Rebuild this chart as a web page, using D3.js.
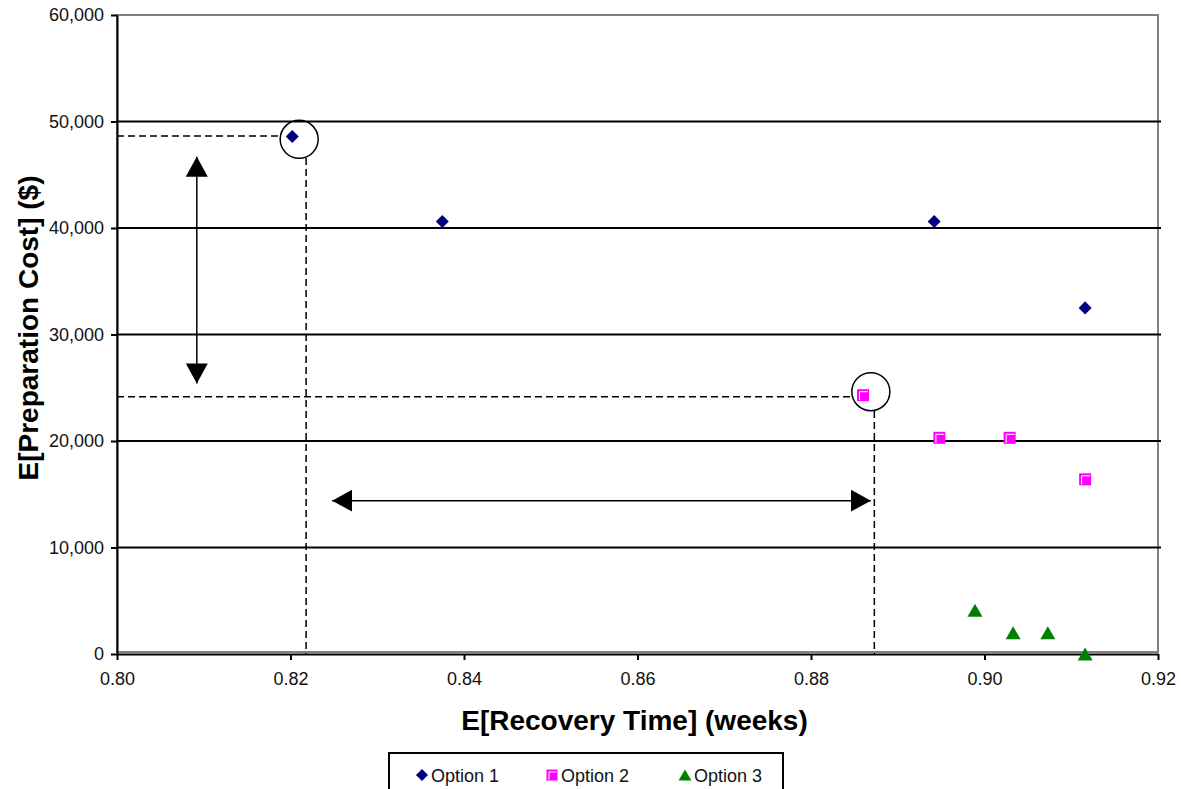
<!DOCTYPE html>
<html>
<head>
<meta charset="utf-8">
<script src="https://cdn.jsdelivr.net/npm/d3@7"></script>
<style>
  body { margin: 0; background: #fff; }
  svg { font-family: "Liberation Sans", Arial, sans-serif; }
</style>
</head>
<body>
<div id="chart"></div>
<script>
// series values (x = expected recovery time, y = expected preparation cost)
const option1_x = [0.8202, 0.8375, 0.8942, 0.9116];
const option1_y = [48600, 40600, 40600, 32500];
const option2_x = [0.8860, 0.8948, 0.9029, 0.9116];
const option2_y = [24300, 20300, 20300, 16400];
const option3_x = [0.8989, 0.9033, 0.9073, 0.9116];
const option3_y = [4100, 2000, 2000, 0];

const series_names = ["Option 1", "Option 2", "Option 3"];
const x_ticks = [0.80, 0.82, 0.84, 0.86, 0.88, 0.90, 0.92];
const y_ticks = [0, 10000, 20000, 30000, 40000, 50000, 60000];

// annotation positions in data units
const circle_centers = [[0.8210, 48330], [0.8869, 24630]];
const guide_h = [[0.80, 0.8189, 48640], [0.80, 0.8846, 24160]];   // x0, x1, y
const guide_v = [[0.8218, 46570, 0], [0.8873, 22820, 0]];         // x, y0, y1
const arrow_v = [0.8092, 46700, 25400];                            // x, y_top, y_bottom
const arrow_h = [0.8248, 0.8869, 14400];                           // x_left, x_right, y

const chart_width = 1181;
const chart_height = 789;
const margin_left = 117;
const margin_top = 15;
const plot_width = 1041;
const plot_height = 639;

let svg = d3.select("#chart")
    .append("svg")
    .attr("width", chart_width)
    .attr("height", chart_height);

let xScale = d3.scaleLinear()
    .domain([0.80, 0.92])
    .range([margin_left, margin_left + plot_width]);

let yScale = d3.scaleLinear()
    .domain([0, 60000])
    .range([margin_top + plot_height, margin_top]);

// plot area border (grey)
svg.append("rect")
    .attr("x", xScale(0.80))
    .attr("y", yScale(60000))
    .attr("width", xScale(0.92) - xScale(0.80))
    .attr("height", yScale(0) - yScale(60000) - 2)
    .attr("fill", "none")
    .attr("stroke", "#808080")
    .attr("stroke-width", 2);

// gridlines
svg.append("g")
    .selectAll("line")
    .data(y_ticks.filter(d => d > 0 && d < 60000))
    .enter()
    .append("line")
    .attr("x1", xScale(0.80))
    .attr("x2", xScale(0.92) + 3)
    .attr("y1", d => yScale(d))
    .attr("y2", d => yScale(d))
    .attr("stroke", "#000")
    .attr("stroke-width", 2);

let x_axis = svg.append("g")
    .attr("class", "x axis")
    .attr("transform", "translate(0," + yScale(0) + ")")
    .call(d3.axisBottom(xScale)
        .tickValues(x_ticks)
        .tickSizeInner(6)
        .tickSizeOuter(0)
        .tickFormat(d3.format(".2f")));

let y_axis = svg.append("g")
    .attr("class", "y axis")
    .attr("transform", "translate(" + xScale(0.80) + ",0)")
    .call(d3.axisLeft(yScale)
        .tickValues(y_ticks)
        .tickSizeInner(6)
        .tickSizeOuter(0)
        .tickFormat(d3.format(",")));

svg.selectAll(".axis path, .axis line")
    .attr("stroke", "#000")
    .attr("stroke-width", 2);
svg.selectAll(".axis text")
    .attr("fill", "#111")
    .attr("font-size", "18px")
    .attr("font-family", "Liberation Sans, Arial, sans-serif");
x_axis.selectAll("text").attr("dy", "1.2em");
y_axis.selectAll("text").attr("x", -13);

// axis titles
svg.append("text")
    .attr("x", xScale(0.86) - 3)
    .attr("y", 730)
    .attr("text-anchor", "middle")
    .attr("font-size", "28px")
    .attr("font-weight", "bold")
    .text("E[Recovery Time] (weeks)");

svg.append("text")
    .attr("transform", "translate(38,328) rotate(-90)")
    .attr("text-anchor", "middle")
    .attr("font-size", "28px")
    .attr("font-weight", "bold")
    .text("E[Preparation Cost] ($)");

// annotations: dashed guides, circles, arrows
let notes = svg.append("g");

notes.selectAll(".guide_h")
    .data(guide_h)
    .enter()
    .append("line")
    .attr("x1", d => xScale(d[0]))
    .attr("x2", d => xScale(d[1]))
    .attr("y1", d => yScale(d[2]))
    .attr("y2", d => yScale(d[2]))
    .attr("stroke", "#000")
    .attr("stroke-width", 1.5)
    .attr("stroke-dasharray", "7,4");

notes.selectAll(".guide_v")
    .data(guide_v)
    .enter()
    .append("line")
    .attr("x1", d => xScale(d[0]))
    .attr("x2", d => xScale(d[0]))
    .attr("y1", d => yScale(d[1]))
    .attr("y2", d => yScale(d[2]))
    .attr("stroke", "#000")
    .attr("stroke-width", 1.5)
    .attr("stroke-dasharray", "7,4");

notes.selectAll("circle")
    .data(circle_centers)
    .enter()
    .append("circle")
    .attr("cx", d => xScale(d[0]))
    .attr("cy", d => yScale(d[1]))
    .attr("r", 19)
    .attr("fill", "none")
    .attr("stroke", "#000")
    .attr("stroke-width", 1.5);

svg.append("defs")
    .append("marker")
    .attr("id", "arrowhead")
    .attr("markerUnits", "userSpaceOnUse")
    .attr("viewBox", "0 0 20 22")
    .attr("refX", 20)
    .attr("refY", 11)
    .attr("markerWidth", 20)
    .attr("markerHeight", 22)
    .attr("orient", "auto-start-reverse")
    .append("path")
    .attr("d", "M0,0 L20,11 L0,22 Z")
    .attr("fill", "#000");

notes.append("line")
    .attr("x1", xScale(arrow_v[0]))
    .attr("x2", xScale(arrow_v[0]))
    .attr("y1", yScale(arrow_v[1]))
    .attr("y2", yScale(arrow_v[2]))
    .attr("stroke", "#000")
    .attr("stroke-width", 1.5)
    .attr("marker-start", "url(#arrowhead)")
    .attr("marker-end", "url(#arrowhead)");

notes.append("line")
    .attr("x1", xScale(arrow_h[0]))
    .attr("x2", xScale(arrow_h[1]))
    .attr("y1", yScale(arrow_h[2]))
    .attr("y2", yScale(arrow_h[2]))
    .attr("stroke", "#000")
    .attr("stroke-width", 1.5)
    .attr("marker-start", "url(#arrowhead)")
    .attr("marker-end", "url(#arrowhead)");

// marker drawing helpers
function draw_diamond(g, size) {
    g.append("path")
        .attr("d", d3.symbol().type(d3.symbolDiamond2).size(size * size * 0.55)())
        .attr("fill", "#000080");
}
function draw_square(g, size) {
    let h = size / 2;
    g.append("rect")
        .attr("x", -h).attr("y", -h)
        .attr("width", size).attr("height", size)
        .attr("fill", "#ff00ff");
    g.append("path")
        .attr("d", "M" + (-h + 2.5) + "," + (h - 1) + " V" + (-h + 2.5) + " H" + (h - 1))
        .attr("fill", "none")
        .attr("stroke", "#fff")
        .attr("stroke-width", 1);
}
function draw_triangle(g, size) {
    let h = size / 2;
    g.append("path")
        .attr("d", "M0," + (-h) + " L" + (h + 1) + "," + h + " L" + (-h - 1) + "," + h + " Z")
        .attr("fill", "#008000");
}

let series = [
    {x: option1_x, y: option1_y, draw: draw_diamond, size: 14},
    {x: option2_x, y: option2_y, draw: draw_square, size: 12},
    {x: option3_x, y: option3_y, draw: draw_triangle, size: 13}
];

for (let s of series) {
    for (let i = 0; i < s.x.length; i++) {
        let g = svg.append("g")
            .attr("transform", "translate(" + xScale(s.x[i]) + "," + yScale(s.y[i]) + ")");
        s.draw(g, s.size);
    }
}

// legend
let legend = svg.append("g");
legend.append("rect")
    .attr("x", 389)
    .attr("y", 753)
    .attr("width", 394)
    .attr("height", 60)
    .attr("fill", "#fff")
    .attr("stroke", "#000")
    .attr("stroke-width", 2);

let legend_x = [422, 552, 685];
series_names.forEach(function(name, i) {
    let g = legend.append("g")
        .attr("transform", "translate(" + legend_x[i] + ",775)");
    series[i].draw(g, i == 0 ? 13 : 11);
    legend.append("text")
        .attr("x", legend_x[i] + 9)
        .attr("y", 782)
        .attr("font-size", "18px")
        .attr("fill", "#111")
        .text(name);
});
</script>
</body>
</html>
